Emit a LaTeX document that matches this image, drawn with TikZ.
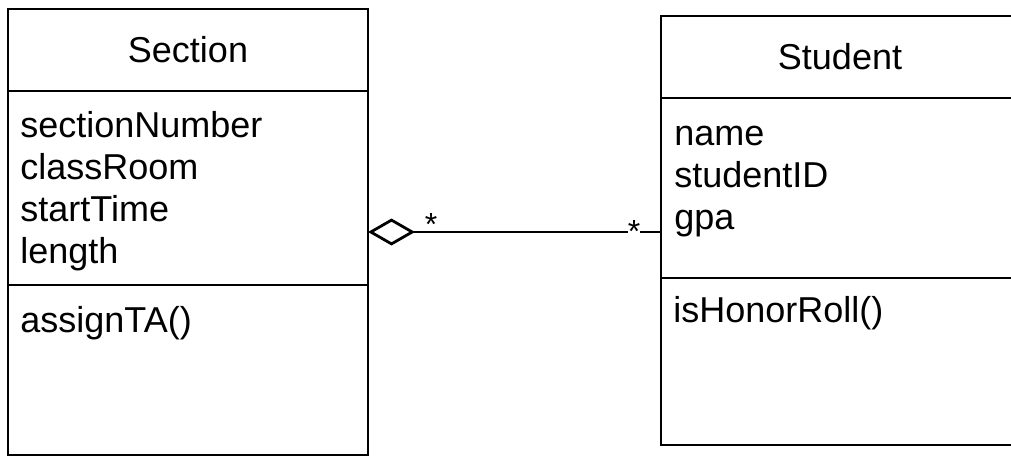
\documentclass[tikz,border=0pt]{standalone}
\usepackage{fontspec}
\setmainfont{Liberation Sans}
\usetikzlibrary{positioning,arrows.meta}

\begin{document}
\begin{tikzpicture}[
        x=1pt, y=-1pt, % координаты в пикселях, ось y вниз
        line width=2.8pt,
        part/.style = {draw, inner sep=0pt, outer sep=0pt, anchor=north west}, % отсек класса
        title/.style = {font=\fontsize{36}{42}\selectfont},
        list/.style = {align=left, inner sep=0pt, anchor=base west, font=\fontsize{36}{42}\selectfont}, % поля и методы, якорь на последней строке
        mult/.style = {inner sep=0pt, anchor=base, font=\fontsize{32}{32}\selectfont}, % кратность
        aggr/.style = {{Diamond[open, length=47pt, width=27pt]}-},
    ]

    \clip (0,0) rectangle (1011,457);

    % класс Section
    \node[part, minimum width=360pt, minimum height=82pt, title] (secHead) at (8,9) {Section};
    \node[part, minimum width=360pt, minimum height=194pt, below=0pt of secHead] (secAttr) {};
    \node[part, minimum width=360pt, minimum height=170pt, below=0pt of secAttr] (secOps) {};
    \node[list] (secAttrText) at ([shift={(11,172)}]secAttr.north west) {sectionNumber\\classRoom\\startTime\\length};
    \node[list] (secOpsText) at ([shift={(11,47)}]secOps.north west) {assignTA()};

    % класс Student
    \node[part, minimum width=358pt, minimum height=82pt, title] (stuHead) at (661,16) {Student};
    \node[part, minimum width=358pt, minimum height=180pt, below=0pt of stuHead] (stuAttr) {};
    \node[part, minimum width=358pt, minimum height=167pt, below=0pt of stuAttr] (stuOps) {};
    \node[list] (stuAttrText) at ([shift={(12,131)}]stuAttr.north west) {name\\studentID\\gpa};
    \node[list] (stuOpsText) at ([shift={(11,44)}]stuOps.north west) {isHonorRoll()};

    % агрегация
    \draw[aggr] ([yshift=-44pt]secAttr.east) -- ([yshift=-44pt]stuAttr.west);
    \node[mult] (secMult) at (431,235) {*};
    \node[mult, fill=white] (stuMult) at (634,242) {*};

\end{tikzpicture}
\end{document}
